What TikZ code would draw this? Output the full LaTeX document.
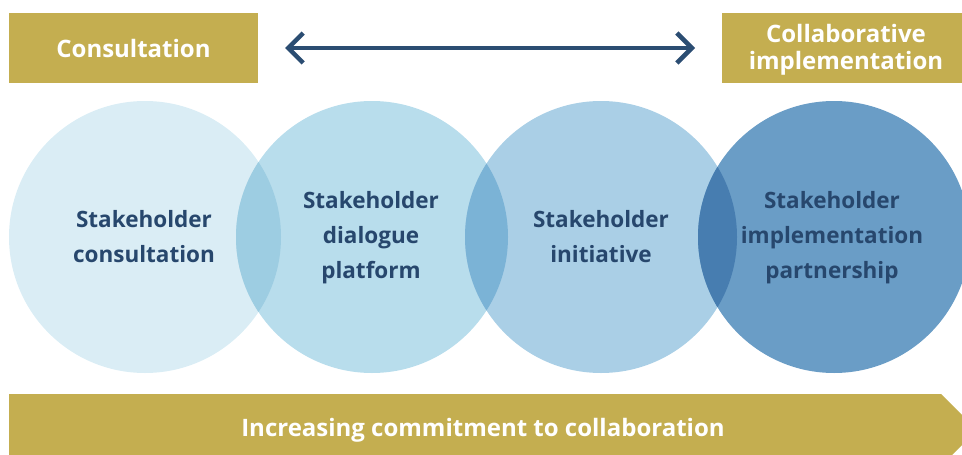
\documentclass[tikz,border=0pt]{standalone}
\usepackage{fontspec}
\setmainfont{Open Sans}
\usetikzlibrary{arrows.meta}
\definecolor{gold}{HTML}{C4AE50}
\definecolor{navy}{HTML}{27476D}
\definecolor{arrowblue}{HTML}{2B4D72}
\definecolor{cA}{HTML}{DAEDF5}
\definecolor{cB}{HTML}{B8DDEC}
\definecolor{cC}{HTML}{AACFE6}
\definecolor{cD}{HTML}{6A9DC6}
\definecolor{oAB}{HTML}{9DCDE2}
\definecolor{oBC}{HTML}{7BB3D6}
\definecolor{oCD}{HTML}{477DB0}
\tikzset{
  bubble/.style={circle, minimum size=272pt, inner sep=0pt, draw=none},
  bubbletext/.style={text=navy, font=\fontsize{22.5}{35}\selectfont\bfseries, align=center, inner sep=0pt},
  goldbox/.style={fill=gold, draw=none, text=white, font=\fontsize{24}{27}\selectfont\bfseries, align=center, inner sep=0pt},
}
\begin{document}
\begin{tikzpicture}[x=1pt,y=-1pt]
\useasboundingbox (0,0) rectangle (962,455);
\clip (0,0) rectangle (962,455);
% top boxes
\node[goldbox, minimum width=249pt, minimum height=70pt] (cons) at (133.5,48) {Consultation};
\node[goldbox, minimum width=246pt, minimum height=70pt] (collab) at (845,48) {};
\node[goldbox, fill=none] (collabtxt) at (846,49.5) {Collaborative\\implementation};
% double arrow
\coordinate (la) at (285,48);
\coordinate (ra) at (695,48);
\draw[arrowblue, line width=4.5pt, {Straight Barb[length=15pt,width=30pt]}-{Straight Barb[length=15pt,width=30pt]}] (la) -- (ra);
% circles
\node[bubble, fill=cA] (c1) at (145,237) {};
\node[bubble, fill=cB] (c2) at (372,237) {};
\node[bubble, fill=cC] (c3) at (601,237) {};
\node[bubble, fill=cD] (c4) at (834,237) {};
\begin{scope}
  \clip (145,237) circle (136);
  \fill[oAB] (372,237) circle (136);
\end{scope}
\begin{scope}
  \clip (372,237) circle (136);
  \fill[oBC] (601,237) circle (136);
\end{scope}
\begin{scope}
  \clip (601,237) circle (136);
  \fill[oCD] (834,237) circle (136);
\end{scope}
\node[bubbletext] (t1) at (144,236.5) {Stakeholder\\consultation};
\node[bubbletext] (t2) at (371,238) {Stakeholder\\dialogue\\platform};
\node[bubbletext] (t3) at (601,236.5) {Stakeholder\\initiative};
\node[bubbletext] (t4) at (832,238) {Stakeholder\\implementation\\partnership};
% bottom arrow
\fill[gold] (9,394) -- (941,394) -- (977,430) -- (941,466) -- (9,466) -- cycle;
\node[goldbox, fill=none] (bottom) at (483,430) {Increasing commitment to collaboration};
\end{tikzpicture}
\end{document}
